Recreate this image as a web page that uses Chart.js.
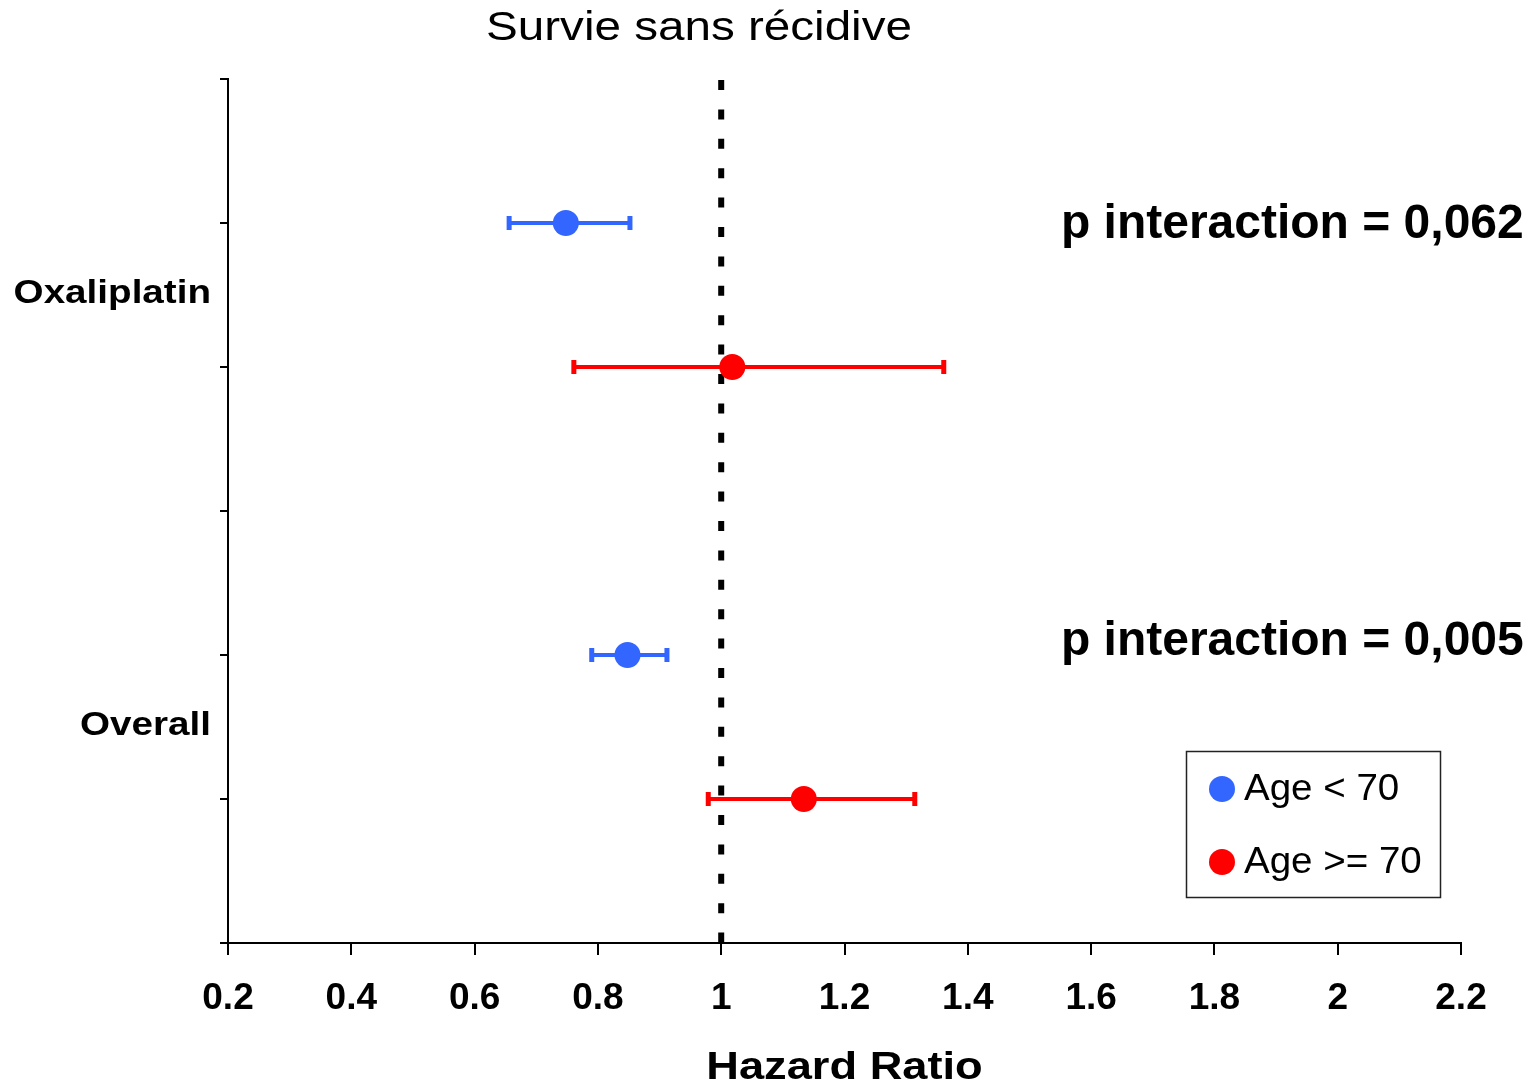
<!DOCTYPE html>
<html>
<head>
<meta charset="utf-8">
<script src="https://cdn.jsdelivr.net/npm/chart.js@4.4.0/dist/chart.umd.min.js"></script>
<style>
html, body { margin: 0; padding: 0; background: #fff; }
canvas { display: block; }
</style>
</head>
<body>
<canvas id="forest" width="1535" height="1087"></canvas>
<script>
// data
var categories = ['Oxaliplatin', 'Overall'];
var seriesNames = ['Age < 70', 'Age >= 70'];
var seriesColors = ['#3366ff', '#ff0000'];
var hrYoung = [0.748, 0.848];
var lowYoung = [0.656, 0.790];
var highYoung = [0.852, 0.912];
var hrOld = [1.018, 1.134];
var lowOld = [0.761, 0.979];
var highOld = [1.361, 1.314];
var pInteraction = ['0,062', '0,005'];
var xTickValues = [0.2, 0.4, 0.6, 0.8, 1, 1.2, 1.4, 1.6, 1.8, 2, 2.2];
var xTickLabels = ['0.2', '0.4', '0.6', '0.8', '1', '1.2', '1.4', '1.6', '1.8', '2', '2.2'];
var yTickValues = [0, 1, 2, 3, 4, 5, 6];

var FONT = "'Liberation Sans', Arial, sans-serif";
Chart.defaults.font.family = FONT;
Chart.defaults.color = '#000';

// each category gets three rows: young, old, spacer
function rowOf(g, s) { return g * 3 + s + 1; }

function makePoints(hr, low, high, s) {
    return hr.map(function (v, g) {
        return { x: v, y: rowOf(g, s), lo: low[g], hi: high[g] };
    });
}

function stretchedText(ctx, text, x, y, font, align, sx) {
    ctx.save();
    ctx.font = font;
    ctx.fillStyle = '#000';
    ctx.textBaseline = 'middle';
    ctx.textAlign = align;
    ctx.translate(x, y);
    ctx.scale(sx, 1);
    ctx.fillText(text, 0, 0);
    ctx.restore();
}

var forestExtras = {
    id: 'forestExtras',
    beforeDatasetsDraw: function (chart) {
        var ctx = chart.ctx, xs = chart.scales.x, ys = chart.scales.y;
        var area = chart.chartArea;

        // no-effect line at HR = 1
        ctx.save();
        ctx.strokeStyle = '#000';
        ctx.lineWidth = 6;
        ctx.setLineDash([10, 19.4]);
        ctx.beginPath();
        ctx.moveTo(xs.getPixelForValue(1), area.top + 1);
        ctx.lineTo(xs.getPixelForValue(1), area.bottom);
        ctx.stroke();
        ctx.restore();

        // confidence intervals
        chart.data.datasets.forEach(function (ds) {
            ctx.save();
            ctx.strokeStyle = ds.backgroundColor;
            ds.data.forEach(function (p) {
                var y = ys.getPixelForValue(p.y);
                var x0 = xs.getPixelForValue(p.lo);
                var x1 = xs.getPixelForValue(p.hi);
                ctx.lineWidth = 4;
                ctx.beginPath();
                ctx.moveTo(x0, y);
                ctx.lineTo(x1, y);
                ctx.stroke();
                ctx.lineWidth = 5;
                ctx.beginPath();
                ctx.moveTo(x0, y - 7);
                ctx.lineTo(x0, y + 7);
                ctx.moveTo(x1, y - 7);
                ctx.lineTo(x1, y + 7);
                ctx.stroke();
            });
            ctx.restore();
        });
    },
    afterDraw: function (chart) {
        var ctx = chart.ctx, xs = chart.scales.x, ys = chart.scales.y;
        var area = chart.chartArea;

        stretchedText(ctx, 'Survie sans récidive', 699, 29, '40px ' + FONT, 'center', 1.19);
        stretchedText(ctx, 'Hazard Ratio', (area.left + area.right) / 2, 1069, 'bold 38px ' + FONT, 'center', 1.19);

        categories.forEach(function (c, g) {
            var y = ys.getPixelForValue(g * 3 + 1.5) - 1;
            stretchedText(ctx, c, 211, y, 'bold 33px ' + FONT, 'right', 1.17);
        });

        var pRows = [1.01, 3.905];
        pInteraction.forEach(function (p, g) {
            stretchedText(ctx, 'p interaction = ' + p, xs.getPixelForValue(1.551),
                ys.getPixelForValue(pRows[g]), 'bold 48px ' + FONT, 'left', 1);
        });

        // legend box
        ctx.save();
        ctx.strokeStyle = '#222';
        ctx.lineWidth = 1.5;
        ctx.strokeRect(1186.5, 751.5, 254, 146);
        chart.data.datasets.forEach(function (ds, i) {
            var cy = 790 + i * 73;
            ctx.fillStyle = ds.backgroundColor;
            ctx.beginPath();
            ctx.arc(1222, cy - 1, 13, 0, Math.PI * 2);
            ctx.fill();
            stretchedText(ctx, ds.label, 1244, cy, '36px ' + FONT, 'left', 1.07);
        });
        ctx.restore();
    }
};

var ctx = document.getElementById('forest').getContext('2d');
var forestChart = new Chart(ctx, {
    type: 'scatter',
    data: {
        datasets: [{
            label: seriesNames[0],
            data: makePoints(hrYoung, lowYoung, highYoung, 0),
            backgroundColor: seriesColors[0],
            pointRadius: 13,
            pointBorderWidth: 0
        }, {
            label: seriesNames[1],
            data: makePoints(hrOld, lowOld, highOld, 1),
            backgroundColor: seriesColors[1],
            pointRadius: 13,
            pointBorderWidth: 0
        }]
    },
    options: {
        responsive: false,
        animation: false,
        devicePixelRatio: 1,
        layout: { padding: { top: 79, right: 74, left: 0, bottom: 0 } },
        plugins: {
            legend: { display: false },
            tooltip: { enabled: false },
            title: { display: false }
        },
        scales: {
            x: {
                type: 'linear',
                min: 0.2,
                max: 2.2,
                afterBuildTicks: function (s) {
                    s.ticks = xTickValues.map(function (v) { return { value: v }; });
                },
                afterFit: function (s) { s.height = 144; },
                ticks: {
                    callback: function (v, i) { return xTickLabels[i]; },
                    font: { size: 37, weight: 'bold' },
                    color: '#000',
                    padding: 22,
                    maxRotation: 0,
                    autoSkip: false
                },
                grid: { drawOnChartArea: false, tickLength: 12, lineWidth: 2, color: '#000' },
                border: { color: '#000', width: 2 }
            },
            y: {
                type: 'linear',
                min: 0,
                max: 6,
                reverse: true,
                afterBuildTicks: function (s) {
                    s.ticks = yTickValues.map(function (v) { return { value: v }; });
                },
                afterFit: function (s) { s.width = 228; },
                ticks: { callback: function () { return ''; }, padding: 0 },
                grid: { drawOnChartArea: false, tickLength: 8, lineWidth: 2, color: '#000' },
                border: { color: '#000', width: 2 }
            }
        }
    },
    plugins: [forestExtras]
});
</script>
</body>
</html>
